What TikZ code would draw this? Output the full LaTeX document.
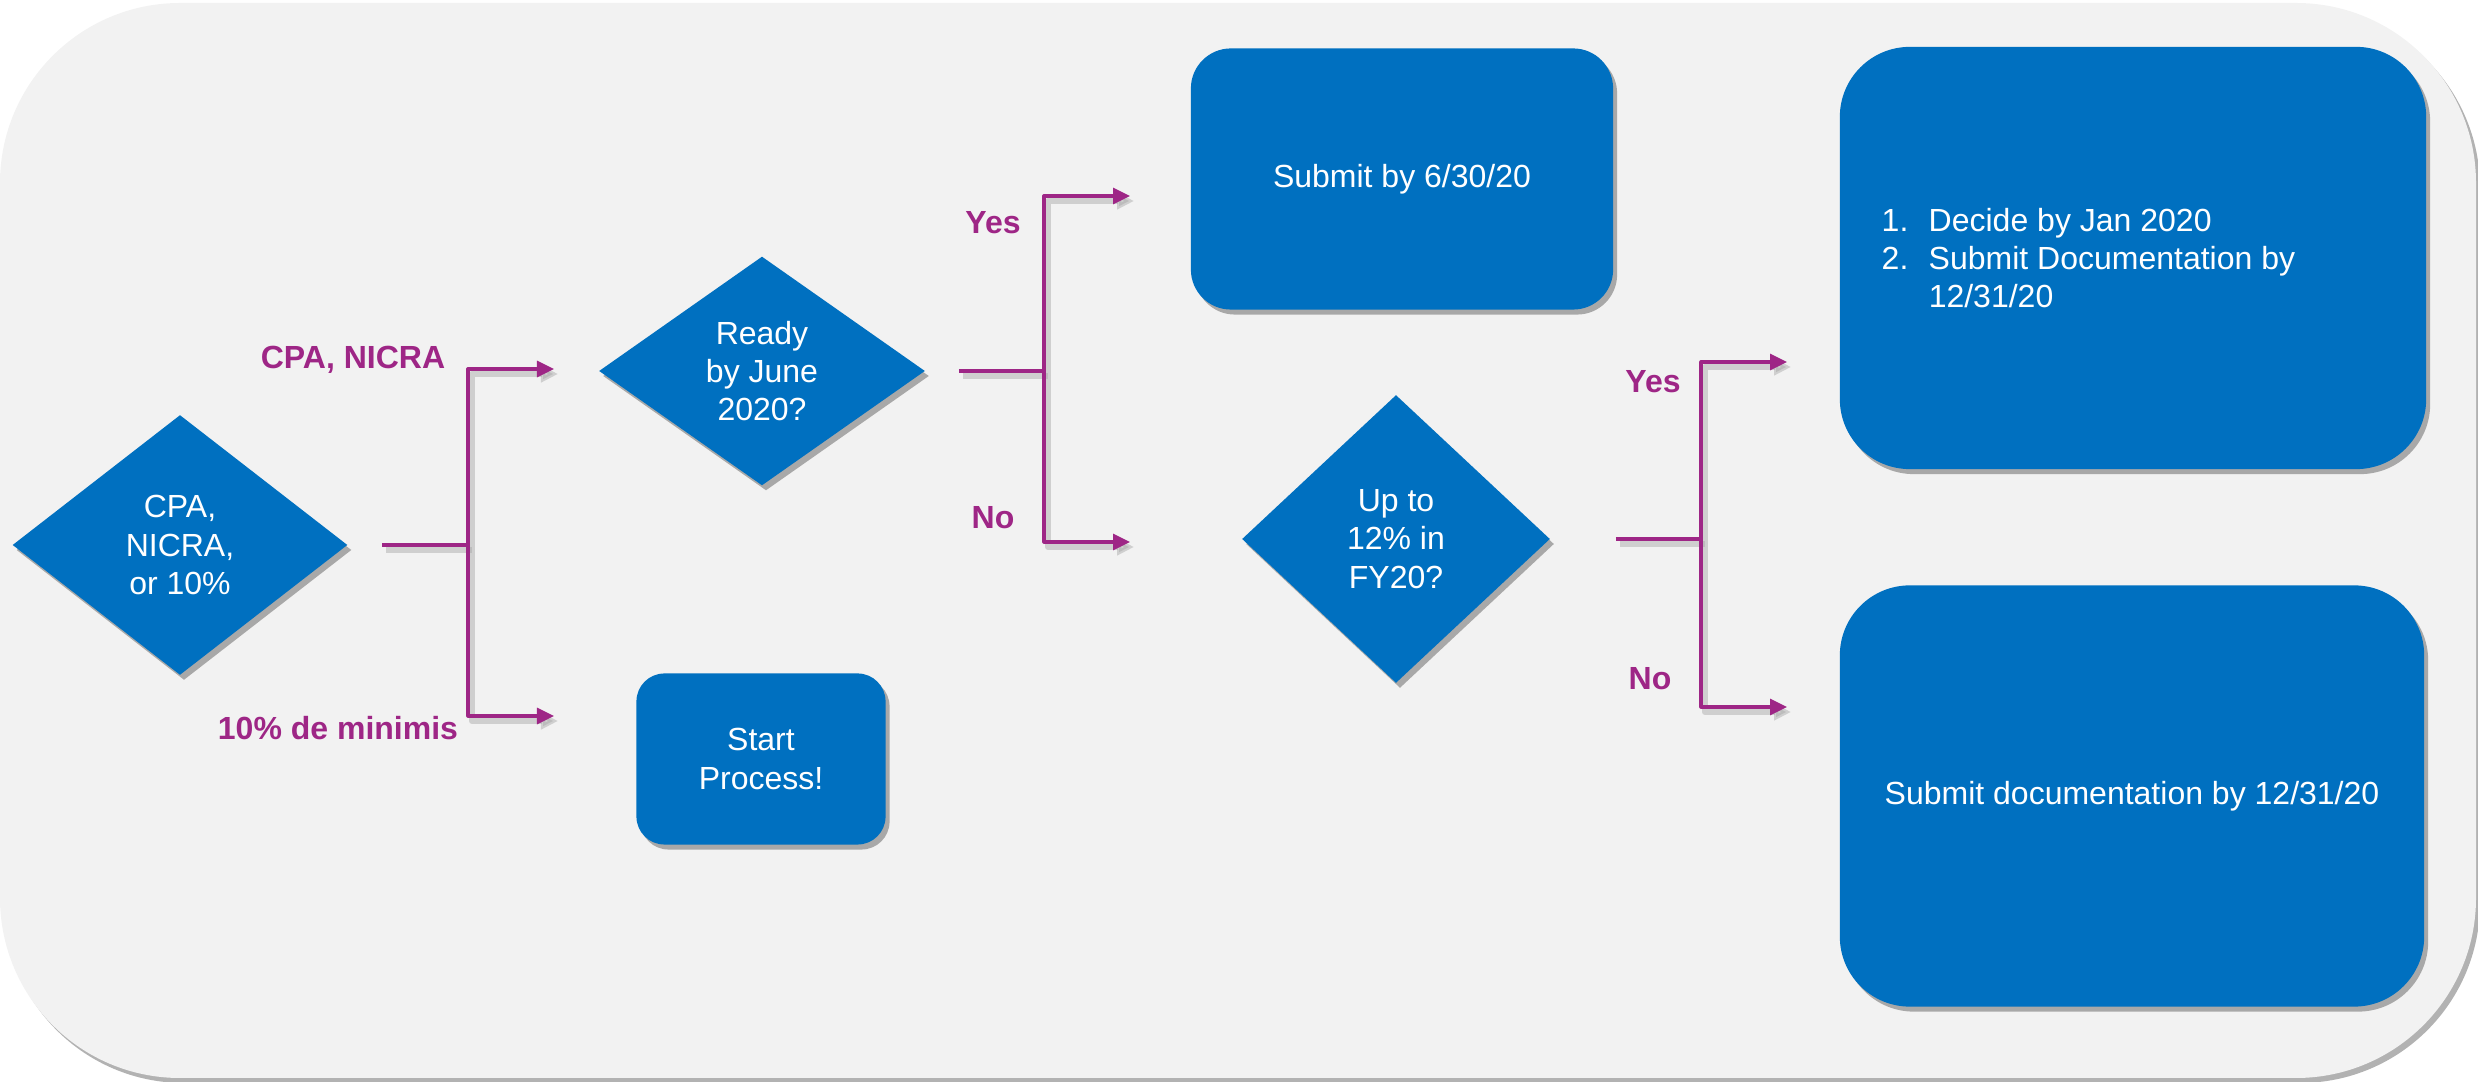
\documentclass[tikz,border=0pt]{standalone}
\usepackage{fontspec}
\setmainfont{Liberation Sans}
\usetikzlibrary{shapes.geometric,shadows,arrows.meta}
\begin{document}
\begin{tikzpicture}[x=0.01cm,y=0.01cm,line join=round]
	\definecolor{slideblue}{RGB}{0,112,192}
	\definecolor{plum}{RGB}{158,38,134}
	\definecolor{panelgray}{RGB}{242,242,242}
	\tikzset{
		softshadow/.style={drop shadow={shadow xshift=0.04cm,shadow yshift=-0.05cm,fill=black,opacity=.3}},
		box/.style={rectangle,rounded corners=#1,fill=slideblue,text=white,align=center,
			font=\fontsize{9.1}{10.9}\selectfont,softshadow},
		ask/.style={diamond,fill=slideblue,text=white,align=center,inner sep=0pt,
			font=\fontsize{9.1}{10.9}\selectfont,softshadow},
		lbl/.style={text=plum,font=\fontsize{9.1}{10.9}\selectfont\bfseries},
		link/.style={draw=plum,line width=0.032cm,
			preaction={draw=black!35,line width=0.06cm,opacity=.45,transform canvas={xshift=0.04cm,yshift=-0.05cm}}},
		linkarrow/.style={link,-{Triangle[length=0.17cm,width=0.16cm]}}
	}
	\useasboundingbox (0,0) rectangle (2478,1082);
	% panel
	\fill[panelgray,softshadow] (0,184) -- (0,899) arc[start angle=180,end angle=90,radius=180]
		-- (2296,1079) arc[start angle=90,end angle=0,radius=180]
		-- (2476,184) arc[start angle=0,end angle=-90,radius=180]
		-- (180,4) arc[start angle=270,end angle=180,radius=180] -- cycle;
	
	%%%% decisions
	\node[ask,minimum width=3.35cm,minimum height=2.6cm] (d1) at (180,537) {CPA,\\NICRA,\\or 10\%};
	\node[ask,minimum width=3.26cm,minimum height=2.29cm] (d2) at (762,711) {Ready\\by June\\2020?};
	\node[ask,minimum width=3.08cm,minimum height=2.88cm] (d3) at (1396,543) {Up to\\12\% in\\FY20?};
	
	%%%% boxes
	\node[box=0.4cm,minimum width=4.22cm,minimum height=2.61cm] (b1) at (1402,903) {Submit by 6/30/20};
	\node[box=0.28cm,minimum width=2.49cm,minimum height=1.71cm] (b2) at (761,323) {Start\\Process!};
	\node[box=0.7cm,minimum width=5.86cm,minimum height=4.22cm] (b3) at (2133,824) {};
	\node[box=0.7cm,minimum width=5.84cm,minimum height=4.21cm] (b4) at (2132,286) {Submit documentation by 12/31/20};
	\node[text=white,align=left,inner sep=0pt,anchor=west,font=\fontsize{9.1}{10.9}\selectfont] (steps) at (1881,824)
		{\makebox[0.47cm][l]{1.}Decide by Jan 2020\\\makebox[0.47cm][l]{2.}Submit Documentation by\\\hspace*{0.47cm}12/31/20};
	
	%%%% forks
	\coordinate (f1) at (468,537);
	\coordinate (e1a) at (554,713);
	\coordinate (e1b) at (554,366);
	\draw[link] ([xshift=0.34cm]d1.east) -- (f1);
	\draw[linkarrow] (f1) |- (e1a);
	\draw[linkarrow] (f1) |- (e1b);
	
	\coordinate (f2) at (1044,711);
	\coordinate (e2a) at (1130,886);
	\coordinate (e2b) at (1130,540);
	\draw[link] ([xshift=0.33cm]d2.east) -- (f2);
	\draw[linkarrow] (f2) |- (e2a);
	\draw[linkarrow] (f2) |- (e2b);
	
	\coordinate (f3) at (1701,543);
	\coordinate (e3a) at (1787,720);
	\coordinate (e3b) at (1787,375);
	\draw[link] ([xshift=0.65cm]d3.east) -- (f3);
	\draw[linkarrow] (f3) |- (e3a);
	\draw[linkarrow] (f3) |- (e3b);
	
	%%%% labels
	\node[lbl] (lnicra) at (353,722) {CPA, NICRA};
	\node[lbl] (lmin) at (338,354) {10\% de minimis};
	\node[lbl] (lyes1) at (993,859) {Yes};
	\node[lbl] (lno1) at (993,564) {No};
	\node[lbl] (lyes2) at (1653,700) {Yes};
	\node[lbl] (lno2) at (1650,403) {No};
\end{tikzpicture}
\end{document}
